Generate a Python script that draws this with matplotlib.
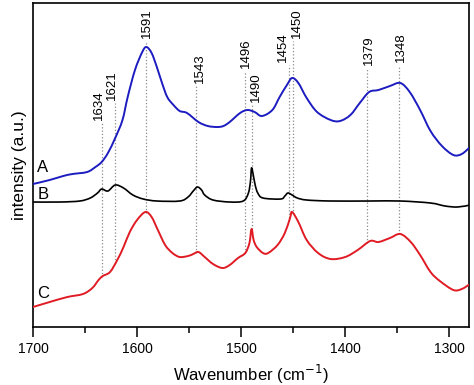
import numpy as np
import matplotlib
matplotlib.use('Agg')
import matplotlib.pyplot as plt
from matplotlib.path import Path
from matplotlib.patches import PathPatch

plt.rcParams['font.family'] = ['Liberation Sans', 'DejaVu Sans']

# 光谱 A（蓝）
wn_a = [1700, 1684, 1671, 1662, 1648, 1640, 1634, 1628, 1621, 1614, 1609, 1602,
        1595, 1591, 1586, 1581, 1576, 1571, 1565, 1559, 1552, 1541, 1532, 1523,
        1517, 1511, 1501, 1494, 1487, 1480, 1470, 1463, 1456, 1451, 1445, 1437,
        1427, 1414, 1405, 1395, 1386, 1377, 1368, 1357, 1347, 1338, 1328, 1318,
        1307, 1296, 1288, 1280]
int_a = [143, 147, 151, 153, 155, 160, 165, 174, 189, 207, 230, 257,
         275, 280, 274, 260, 244, 230, 222, 216, 214, 205, 201, 200,
         201, 205, 214, 217, 215, 211, 217, 230, 242, 249, 244, 229,
         215, 207, 206, 212, 224, 235, 237, 241, 244, 235, 217, 196,
         181, 172, 173, 180]

# 光谱 B（黑）
wn_b = [1700, 1674, 1655, 1645, 1638, 1634, 1628, 1621, 1613, 1604, 1594, 1581,
        1559, 1551, 1546, 1542, 1538, 1535, 1527, 1511, 1498, 1493, 1491, 1490,
        1488.5, 1486.5, 1484, 1479, 1462, 1458, 1455, 1451, 1446, 1437, 1414,
        1376, 1347, 1318, 1304, 1292, 1280]
int_b = [125, 125, 126, 129, 134, 138, 136, 142, 139, 132, 128, 126,
         126, 130, 136, 140, 137, 132, 127, 125, 126, 134, 146, 159,
         153, 142, 134, 129, 128, 131, 134, 132, 129, 127, 126,
         126, 126, 124, 121, 120, 122]

# 光谱 C（红）
wn_c = [1700, 1684, 1667, 1652, 1643, 1637, 1633, 1626, 1619, 1613, 1607, 1600,
        1592, 1586, 1580, 1573, 1566, 1559, 1551, 1546, 1541, 1535, 1527, 1518,
        1511, 1503, 1496, 1492, 1490, 1488, 1485, 1479, 1474, 1465, 1458, 1453,
        1451, 1445, 1437, 1426, 1414, 1400, 1388, 1376, 1368, 1357, 1347, 1337,
        1328, 1318, 1309, 1296, 1288, 1280]
int_c = [20, 25, 30, 33, 39, 47, 51, 55, 67, 80, 95, 107,
         115, 110, 97, 82, 74, 70, 71, 73, 75, 70, 63, 59,
         62, 69, 74, 84, 98, 87, 80, 74, 74, 82, 94, 109,
         115, 105, 87, 74, 68, 70, 77, 86, 85, 89, 93, 85,
         72, 55, 46, 37, 38, 43]

# 峰位标注
peaks = [1634, 1621, 1591, 1543, 1496, 1490, 1454, 1450, 1379, 1348]
label_y = [207, 227, 289, 244, 259, 225, 265, 289, 262, 265]
# 标注的水平微调（点）
label_dx = [-2, -2, 0.5, 2.5, 0.5, 3.5, -4, 3, 1.5, 1.5]


def smooth_path(x, y):
    """Catmull-Rom 曲线转为三次贝塞尔路径（仅用于平滑绘制）"""
    pts = np.column_stack([x, y]).astype(float)
    n = len(pts)
    verts = [pts[0]]
    codes = [Path.MOVETO]
    for i in range(n - 1):
        p0 = pts[max(i - 1, 0)]
        p1 = pts[i]
        p2 = pts[i + 1]
        p3 = pts[min(i + 2, n - 1)]
        c1 = p1 + (p2 - p0) / 6.0
        c2 = p2 - (p3 - p1) / 6.0
        verts += [c1, c2, p2]
        codes += [Path.CURVE4] * 3
    return Path(verts, codes)


fig = plt.figure(figsize=(4.74, 3.85), dpi=100)
ax = fig.add_axes([0.0696, 0.1506, 0.9199, 0.8416])

# 虚线：从曲线 C 到标注
for p, ly, dx in zip(peaks, label_y, label_dx):
    y0 = np.interp(p, wn_c[::-1], int_c[::-1])
    ax.plot([p, p], [y0, ly - 3], color='#8a8a8a', linestyle=':', linewidth=0.9, zorder=1)
    ax.annotate(str(p), xy=(p, ly), xytext=(dx, 0), textcoords='offset points',
                rotation=90, ha='center', va='bottom', fontsize=9.5)

for xs, ys, c, lw in [(wn_a, int_a, '#1c1cc0', 1.4),
                      (wn_b, int_b, 'black', 1.2),
                      (wn_c, int_c, '#e01b24', 1.4)]:
    ax.add_patch(PathPatch(smooth_path(xs, ys), facecolor='none', edgecolor=c,
                           linewidth=lw, zorder=3, capstyle='round', joinstyle='round'))

ax.text(1696, 155, 'A', fontsize=12, va='baseline', ha='left')
ax.text(1696, 128, 'B', fontsize=12, va='baseline', ha='left')
ax.text(1696, 29, 'C', fontsize=12, va='baseline', ha='left')

ax.set_xlim(1700, 1281)
ax.set_ylim(0, 324)
ax.set_xticks([1700, 1600, 1500, 1400, 1300])
ax.set_xticks(np.arange(1650, 1280, -100), minor=True)
ax.set_yticks([])
ax.tick_params(axis='x', which='major', direction='out', length=7, width=1.1, labelsize=10, pad=4)
ax.tick_params(axis='x', which='minor', direction='out', length=4, width=1.1)
for s in ax.spines.values():
    s.set_linewidth(1.2)

ax.set_xlabel('Wavenumber (cm$^{-1}$)', fontsize=12, labelpad=5)
ax.set_ylabel('intensity (a.u.)', fontsize=12.5, labelpad=4)

fig.savefig('out.png', dpi=100)
